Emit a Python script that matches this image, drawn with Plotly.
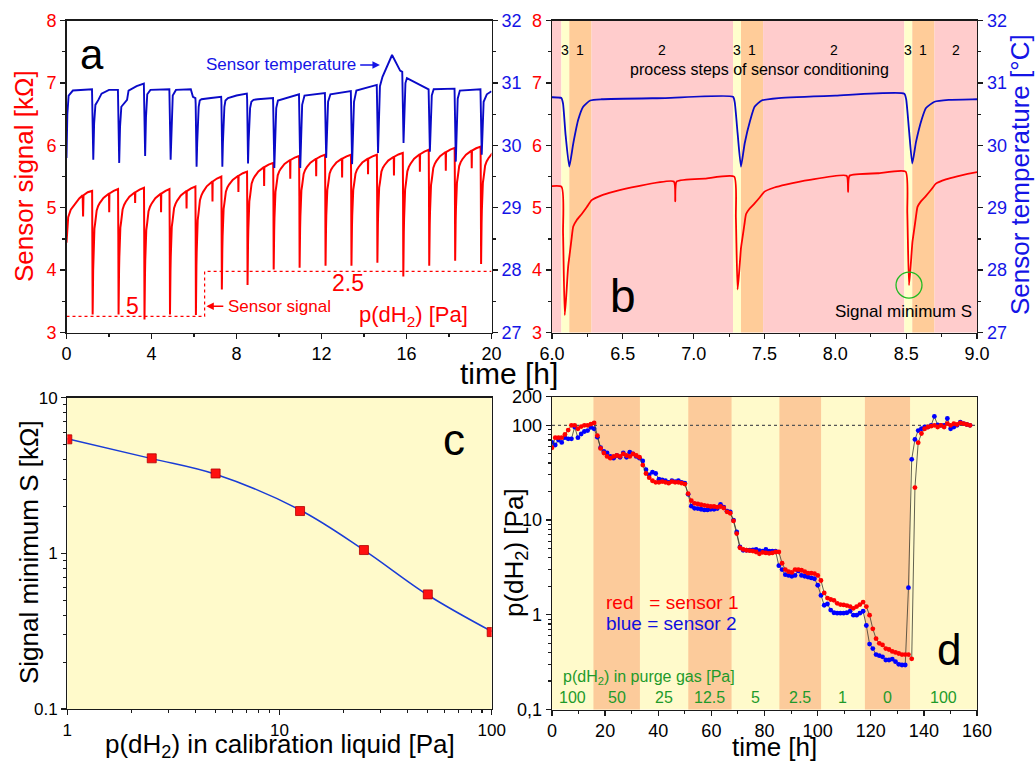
import math
import plotly.graph_objects as go

W, H = 1035, 761
FONT = "Liberation Sans, Arial, Helvetica, sans-serif"
RED = "#FF0000"
BLUE_LINE = "#0A0AC8"
BLUE_TXT = "#1414E6"
GREEN_TXT = "#1E9A2A"
AXC = "#1a1a1a"

# ---------------- Panel a / b : sensor signal and temperature (b = zoom of a) -------------
red_start_t = [0.0, 0.03, 0.08, 0.20, 0.40, 0.60, 0.76, 0.78, 0.80, 1.00]
red_start_v = [4.44, 4.70, 4.85, 4.97, 5.07, 5.15, 5.20, 4.86, 5.20, 5.25]
red_dip_t = [1.23, 2.45, 3.67, 4.87, 6.09, 7.31, 8.52, 9.75, 10.97, 12.19, 13.41, 14.63, 15.85, 17.07, 18.29, 19.51]
red_dip_min = [3.29, 3.29, 3.21, 3.29, 3.28, 3.69, 3.76, 4.01, 4.04, 4.07, 4.07, 4.12, 3.90, 4.07, 4.15, 4.10]
red_pre = [5.27, 5.30, 5.32, 5.30, 5.34, 5.50, 5.58, 5.72, 5.83, 5.85, 5.85, 5.85, 5.88, 5.93, 5.96, 5.98]
red_final = 6.00
red_spike_depth = [0.30, 0.17, 0.30, 0.28, 0.32, 0.26, 0.30, 0.30, 0.28, 0.30, 0.25, 0.30, 0.28, 0.30, 0.28, 0.30]
# drop into / recovery after each minimum (hours relative to minimum, fraction)
drop_dt = [-0.024, -0.012]
drop_frac = [1.0, 0.64]
rec_dt = [0.012, 0.024, 0.036, 0.048, 0.06, 0.084, 0.12, 0.156, 0.19, 0.26, 0.34, 0.51, 0.77, 0.78, 0.79, 0.99]
rec_frac = [0.16, 0.35, 0.45, 0.55, 0.64, 0.685, 0.73, 0.78, 0.83, 0.865, 0.89, 0.93, 0.965, None, 0.965, 0.986]

blue_t = [0.00, 0.04, 0.10, 0.30, 1.20, 1.26, 1.30, 1.36, 1.50, 1.65, 2.00, 2.42, 2.48, 2.52, 2.58,
          2.85, 2.92, 3.30, 3.64, 3.70, 3.74, 3.80, 3.95, 4.84, 4.90, 4.94, 5.00, 5.15, 5.85, 5.95,
          6.066, 6.078, 6.095, 6.122, 6.15, 6.185, 6.22, 6.27, 6.35, 6.80, 7.278, 7.29, 7.31, 7.334,
          7.36, 7.40, 7.43, 7.48, 7.60, 8.00, 8.487, 8.50, 8.52, 8.543, 8.57, 8.61, 8.64, 8.70, 8.80,
          9.00, 9.72, 9.78, 9.82, 9.87, 9.95, 10.94, 11.00, 11.04, 11.09, 11.20, 12.16, 12.22, 12.26,
          12.31, 12.42, 13.38, 13.44, 13.48, 13.53, 13.64, 14.60, 14.66, 14.70, 14.75, 14.87, 15.32,
          15.70, 15.80, 15.86, 15.90, 15.95, 16.02, 16.90, 17.04, 17.10, 17.14, 17.19, 17.28, 18.26,
          18.32, 18.36, 18.41, 18.51, 19.48, 19.54, 19.58, 19.63, 19.78, 20.00]
blue_T = [29.80, 30.50, 30.80, 30.88, 30.90, 29.77, 30.35, 30.65, 30.73, 30.83, 30.89, 30.89, 29.72, 30.30, 30.62,
          30.73, 30.88, 30.95, 30.99, 29.83, 30.45, 30.82, 30.89, 30.90, 29.77, 30.40, 30.80, 30.89, 30.90, 30.78,
          30.76, 30.67, 30.19, 29.66, 30.03, 30.41, 30.62, 30.72, 30.74, 30.76, 30.78, 30.69, 30.20, 29.66,
          30.03, 30.41, 30.62, 30.72, 30.76, 30.80, 30.83, 30.74, 30.25, 29.71, 30.06, 30.42, 30.60, 30.70, 30.73,
          30.74, 30.76, 29.64, 30.20, 30.60, 30.72, 30.82, 29.64, 30.20, 30.65, 30.80, 30.84, 29.80, 30.30,
          30.70, 30.82, 30.87, 29.70, 30.25, 30.70, 30.88, 30.97, 29.88, 30.45, 30.95, 31.10, 31.45,
          31.20, 31.18, 30.04, 30.60, 31.00, 31.08, 30.93, 30.90, 29.90, 30.40, 30.80, 30.90, 30.91,
          29.74, 30.30, 30.75, 30.88, 30.90, 29.85, 30.35, 30.70, 30.82, 30.87]

# p(dH2) of calibration liquid indicated in panel a (dotted step, drawn on signal axis)
cal_step_t = [0.0, 6.5, 6.5, 20.0]
cal_step_level = [3.26, 3.26, 3.98, 3.98]

# process steps in panel b
step_bounds = [6.0, 6.066, 6.122, 6.279, 7.278, 7.334, 7.49, 8.487, 8.543, 8.70, 9.0]
step_ids = [2, 3, 1, 2, 3, 1, 2, 3, 1, 2]
step_colors = {1: "#FFCC99", 2: "#FFCCCC", 3: "#FFFFCC"}

# ---------------- Panel c : calibration -------------
calib_p = [1, 2.5, 5, 12.5, 25, 50, 100]
calib_S = [5.40, 4.08, 3.26, 1.87, 1.05, 0.545, 0.312]
fit_S = [5.45, 4.06, 3.22, 1.90, 1.05, 0.54, 0.315]

# ---------------- Panel d : long-term measurement -------------
d_step_h = 1.22
d_red = [58, 74, 74, 74, 80, 89, 100, 100, 92, 97, 100, 100, 103, 106, 78, 57, 51, 47, 45, 47,
         48, 47, 50, 48, 47, 50, 48, 46, 38, 31, 28, 26, 25, 25, 25.5, 25, 24.5, 25.5, 25, 25,
         24.5, 24, 19, 16, 15, 14.8, 14.5, 14.3, 14.1, 13.9, 13.9, 13.7, 13.9, 13.4, 12.2, 11.8, 9.8, 7.2, 5.1, 4.9,
         4.8, 4.75, 4.7, 4.6, 4.4, 4.55, 4.5, 4.45, 4.5, 4.6, 4.6, 3.5, 3.0, 2.85, 2.8, 3.0, 3.0, 2.95, 2.85, 2.75,
         2.75, 2.72, 2.6, 2.3, 1.7, 1.5, 1.45, 1.42, 1.32, 1.28, 1.27, 1.25, 1.22, 1.17, 1.22, 1.28, 1.36, 1.22, 0.99, 0.71,
         0.56, 0.50, 0.48, 0.44, 0.43, 0.41, 0.40, 0.39, 0.38, 0.38, 0.38, 0.343, 22, 65.6, 82, 92, 96, 98, 100, 96,
         100, 96, 104, 100, 104, 102, 106, 104, 102, 100]
d_blue = [66, 62, 70, 66, 74, 72, 72, 96, 74, 81, 86, 88, 95, 92, 75, 58, 53, 51, 47, 45,
          48, 46, 51, 46, 52, 50, 47, 45, 42, 34, 30, 32, 31, 27, 26.5, 26, 25, 26, 25.5, 26,
          25, 24.5, 18.7, 14, 13.3, 13.2, 13, 12.8, 12.8, 13, 13, 13.2, 14.6, 13.7, 12.4, 12.2, 10, 7.5, 5.2, 4.8,
          4.8, 4.8, 4.85, 4.9, 4.75, 4.7, 4.9, 4.7, 4.7, 4.7, 3.3, 3.0, 2.65, 2.6, 2.55, 2.6, 2.9, 2.6, 2.55, 2.5,
          2.45, 2.4, 2.05, 1.6, 1.26, 1.3, 1.12, 1.05, 1.04, 1.04, 1.04, 1.05, 1.09, 0.99, 0.99, 1.04, 1.09, 0.77, 0.49, 0.44,
          0.38, 0.37, 0.36, 0.333, 0.333, 0.34, 0.32, 0.30, 0.295, 0.295, 1.93, 43.8, 71, 88, 92, 96, 96, 100, 124, 101,
          100, 100, 118, 92, 96, 100, 108, 104, 102, 100]
d_time = [round(i * d_step_h, 2) for i in range(len(d_red))]
purge_bounds = [0, 15.6, 33.1, 51.3, 67.6, 85.6, 101.3, 117.8, 134.8, 160]
purge_labels = ["100", "50", "25", "12.5", "5", "2.5", "1", "0", "100"]
purge_nominal = 100

# ---------------- build red trace of panels a/b -------------
rt, rv = list(red_start_t), list(red_start_v)
for k, td in enumerate(red_dip_t):
    mn = red_dip_min[k]
    pre = red_pre[k]
    end = red_pre[k + 1] if k + 1 < len(red_pre) else red_final
    for dt, fr in zip(drop_dt, drop_frac):
        rt.append(td + dt)
        rv.append(mn + fr * (pre - mn))
    rt.append(td)
    rv.append(mn)
    for dt, fr in zip(rec_dt, rec_frac):
        rt.append(td + dt)
        if fr is None:
            rv.append(mn + 0.965 * (end - mn) - red_spike_depth[k])
        else:
            rv.append(mn + fr * (end - mn))


def px(x):
    return x / W


def py(y):
    return 1 - y / H


dom_a_x = [px(66.5), px(491.5)]
dom_top_y = [py(332.5), py(20.7)]
dom_b_x = [px(552), px(977)]
dom_c_x = [px(67.3), px(491.7)]
dom_c_y = [py(709), py(397.7)]
dom_d_x = [px(552), px(977)]
dom_d_y = [py(709.5), py(396.8)]

fig = go.Figure()
# panel a
fig.add_trace(go.Scatter(x=cal_step_t, y=cal_step_level, mode="lines", line=dict(color=RED, width=1.2, dash="dot"), xaxis="x", yaxis="y"))
fig.add_trace(go.Scatter(x=rt, y=rv, mode="lines", line=dict(color=RED, width=2.0), xaxis="x", yaxis="y"))
fig.add_trace(go.Scatter(x=blue_t, y=blue_T, mode="lines", line=dict(color=BLUE_LINE, width=1.9), xaxis="x", yaxis="y2"))
# panel b
fig.add_trace(go.Scatter(x=rt, y=rv, mode="lines", line=dict(color=RED, width=1.8, shape="spline", smoothing=0.5), xaxis="x2", yaxis="y3"))
fig.add_trace(go.Scatter(x=blue_t, y=blue_T, mode="lines", line=dict(color=BLUE_LINE, width=1.8, shape="spline", smoothing=0.5), xaxis="x2", yaxis="y4"))
# panel c
fig.add_trace(go.Scatter(x=calib_p, y=fit_S, mode="lines", line=dict(color="#1a3cd6", width=1.5, shape="spline"), xaxis="x3", yaxis="y5"))
fig.add_trace(go.Scatter(x=calib_p, y=calib_S, mode="markers", marker=dict(symbol="square", size=9, color="#FF1010", line=dict(color="#B00000", width=0.8)), xaxis="x3", yaxis="y5"))
# panel d
fig.add_trace(go.Scatter(x=[0, 160], y=[purge_nominal, purge_nominal], mode="lines", line=dict(color="#555555", width=1.2, dash="dot"), xaxis="x4", yaxis="y6"))
fig.add_trace(go.Scatter(x=d_time, y=d_blue, mode="lines+markers", line=dict(color="#3a3a30", width=0.8), marker=dict(color="#0000FF", size=4.8), xaxis="x4", yaxis="y6"))
fig.add_trace(go.Scatter(x=d_time, y=d_red, mode="lines+markers", line=dict(color="#3a3a30", width=0.8), marker=dict(color="#FF0000", size=4.8), xaxis="x4", yaxis="y6"))

shapes = []
for i, sid in enumerate(step_ids):
    shapes.append(dict(type="rect", xref="x2", yref="y3 domain", x0=step_bounds[i], x1=step_bounds[i + 1], y0=0, y1=1,
                       fillcolor=step_colors[sid], line=dict(width=0), layer="below"))
shapes.append(dict(type="rect", xref="x3 domain", yref="y5 domain", x0=0, x1=1, y0=0, y1=1, fillcolor="#FFFACB", line=dict(width=0), layer="below"))
shapes.append(dict(type="rect", xref="x4 domain", yref="y6 domain", x0=0, x1=1, y0=0, y1=1, fillcolor="#FFFACB", line=dict(width=0), layer="below"))
for i in range(1, len(purge_bounds) - 1, 2):
    shapes.append(dict(type="rect", xref="x4", yref="y6 domain", x0=purge_bounds[i], x1=purge_bounds[i + 1], y0=0, y1=1,
                       fillcolor="#FCCB9B", line=dict(width=0), layer="below"))
# green circle around signal minimum
shapes.append(dict(type="circle", xref="x2", yref="y3", xsizemode="pixel", ysizemode="pixel",
                   xanchor=red_dip_t[6], yanchor=red_dip_min[6], x0=-13, x1=13, y0=-13, y1=13,
                   line=dict(color="#22BB22", width=1.3)))

ann = []


def txt(text, x, y, size, color="black", xref="paper", yref="paper", angle=0, xanchor="center", yanchor="middle"):
    ann.append(dict(text=text, x=x, y=y, xref=xref, yref=yref, showarrow=False, textangle=angle,
                    xanchor=xanchor, yanchor=yanchor, font=dict(family=FONT, size=size, color=color)))


# axis titles
txt("Sensor signal [kΩ]", px(24), py(176), 26, RED, angle=-90)
txt("Sensor temperature [°C]", px(1020), py(175), 26, BLUE_TXT, angle=-90)
txt("time [h]", px(509), py(374), 30)
txt("Signal minimum S [kΩ]", px(29), py(552), 26, angle=-90)
txt("p(dH<sub>2</sub>) in calibration liquid [Pa]", px(280), py(745), 26)
txt("p(dH<sub>2</sub>) [Pa]", px(515), py(553), 26, angle=-90)
txt("time [h]", px(774), py(747), 26)

# panel letters
txt("a", 1.18, 7.46, 42, xref="x", yref="y")
txt("b", 6.50, 3.58, 46, xref="x2", yref="y3")
txt("c", math.log10(66.4), math.log10(5.37), 44, xref="x3", yref="y5")
txt("d", 149.3, math.log10(0.43), 44, xref="x4", yref="y6")

# panel a texts
txt("Sensor temperature", 6.47, 7.29, 17, BLUE_TXT, xref="x", yref="y", xanchor="left")
ann.append(dict(x=14.75, y=7.29, ax=13.75, ay=7.29, xref="x", yref="y", axref="x", ayref="y", text="",
                showarrow=True, arrowhead=2, arrowsize=1, arrowwidth=1.5, arrowcolor=BLUE_TXT))
txt("Sensor signal", 7.52, 3.42, 17, RED, xref="x", yref="y", xanchor="left")
ann.append(dict(x=6.58, y=3.42, ax=7.45, ay=3.42, xref="x", yref="y", axref="x", ayref="y", text="",
                showarrow=True, arrowhead=2, arrowsize=1, arrowwidth=1.5, arrowcolor=RED))
txt("5", 3.1, 3.42, 23, RED, xref="x", yref="y")
txt("2.5", 13.25, 3.79, 23, RED, xref="x", yref="y")
txt("p(dH<sub>2</sub>) [Pa]", 16.32, 3.27, 22, RED, xref="x", yref="y")

# panel b texts
for i, sid in enumerate(step_ids):
    if i == 0:
        continue
    txt(str(sid), (step_bounds[i] + step_bounds[i + 1]) / 2, 7.53, 14, xref="x2", yref="y3")
txt("process steps of sensor conditioning", 7.464, 7.21, 16, xref="x2", yref="y3")
txt("Signal minimum S", 8.48, 3.33, 17, xref="x2", yref="y3")

# panel d texts
txt("red\u00a0\u00a0\u00a0= sensor 1", 19.5, math.log10(1.34), 19, RED, xref="x4", yref="y6", xanchor="left")
txt("blue = sensor 2", 19.5, math.log10(0.805), 19, "#1010DD", xref="x4", yref="y6", xanchor="left")
txt("p(dH<sub>2</sub>) in purge gas [Pa]", 3.3, math.log10(0.219), 16, GREEN_TXT, xref="x4", yref="y6", xanchor="left")
for i, lab in enumerate(purge_labels):
    txt(lab, (purge_bounds[i] + purge_bounds[i + 1]) / 2, math.log10(0.135), 16, GREEN_TXT, xref="x4", yref="y6")


def axis(**kw):
    d = dict(showline=True, linecolor=AXC, linewidth=1.3, ticks="outside", ticklen=5, tickwidth=1.3,
             tickcolor=AXC, showgrid=False, zeroline=False, automargin=False,
             tickfont=dict(family=FONT, size=18, color="black"))
    d.update(kw)
    return d


def minor(**kw):
    d = dict(ticks="outside", ticklen=3, tickwidth=1.1, tickcolor=AXC)
    d.update(kw)
    return d


def tf(color, size=18):
    return dict(family=FONT, size=size, color=color)


log_minor_x = [2, 3, 4, 5, 6, 7, 8, 9, 20, 30, 40, 50, 60, 70, 80, 90]
log_minor_yc = [0.2, 0.3, 0.4, 0.5, 0.6, 0.7, 0.8, 0.9, 2, 3, 4, 5, 6, 7, 8, 9]
log_minor_yd = [0.2, 0.3, 0.4, 0.5, 0.6, 0.7, 0.8, 0.9, 2, 3, 4, 5, 6, 7, 8, 9, 20, 30, 40, 50, 60, 70, 80, 90]

fig.update_layout(
    width=W, height=H, autosize=False, margin=dict(l=0, r=0, t=0, b=0, pad=0, autoexpand=False),
    paper_bgcolor="white", plot_bgcolor="white", showlegend=False,
    font=dict(family=FONT),
    xaxis=axis(domain=dom_a_x, range=[0, 20], dtick=4, minor=minor(dtick=2), anchor="y", mirror=True),
    yaxis=axis(domain=dom_top_y, range=[3, 8], dtick=1, minor=minor(dtick=0.5), anchor="x", tickfont=tf(RED)),
    yaxis2=axis(overlaying="y", side="right", anchor="x", range=[27, 32], dtick=1, minor=minor(dtick=0.5), tickfont=tf(BLUE_TXT)),
    xaxis2=axis(domain=dom_b_x, range=[6, 9], dtick=0.5, tickformat=".1f", minor=minor(dtick=0.25), anchor="y3", mirror=True),
    yaxis3=axis(domain=dom_top_y, range=[3, 8], dtick=1, minor=minor(dtick=0.5), anchor="x2", tickfont=tf(RED)),
    yaxis4=axis(overlaying="y3", side="right", anchor="x2", range=[27, 32], dtick=1, minor=minor(dtick=0.5), tickfont=tf(BLUE_TXT)),
    xaxis3=axis(domain=dom_c_x, type="log", range=[0, 2], tickmode="array", tickvals=[1, 10, 100], ticktext=["1", "10", "100"],
                minor=minor(tickmode="array", tickvals=log_minor_x), anchor="y5", mirror=True, tickfont=tf("black", 17)),
    yaxis5=axis(domain=dom_c_y, type="log", range=[-1, 1], tickmode="array", tickvals=[0.1, 1, 10], ticktext=["0.1", "1", "10"],
                minor=minor(tickmode="array", tickvals=log_minor_yc), anchor="x3", mirror=True, tickfont=tf("black", 17)),
    xaxis4=axis(domain=dom_d_x, range=[0, 160], dtick=20, minor=minor(dtick=10), anchor="y6", mirror=True),
    yaxis6=axis(domain=dom_d_y, type="log", range=[-1, math.log10(200)], tickmode="array",
                tickvals=[0.1, 1, 10, 100, 200], ticktext=["0,1", "1", "10", "100", "200"],
                minor=minor(tickmode="array", tickvals=log_minor_yd), anchor="x4", mirror=True),
    shapes=shapes,
    annotations=ann,
)

fig.write_html("out.html", config={"displayModeBar": False, "staticPlot": True},
               post_script="document.body.style.margin='0';document.body.style.overflow='hidden';")
